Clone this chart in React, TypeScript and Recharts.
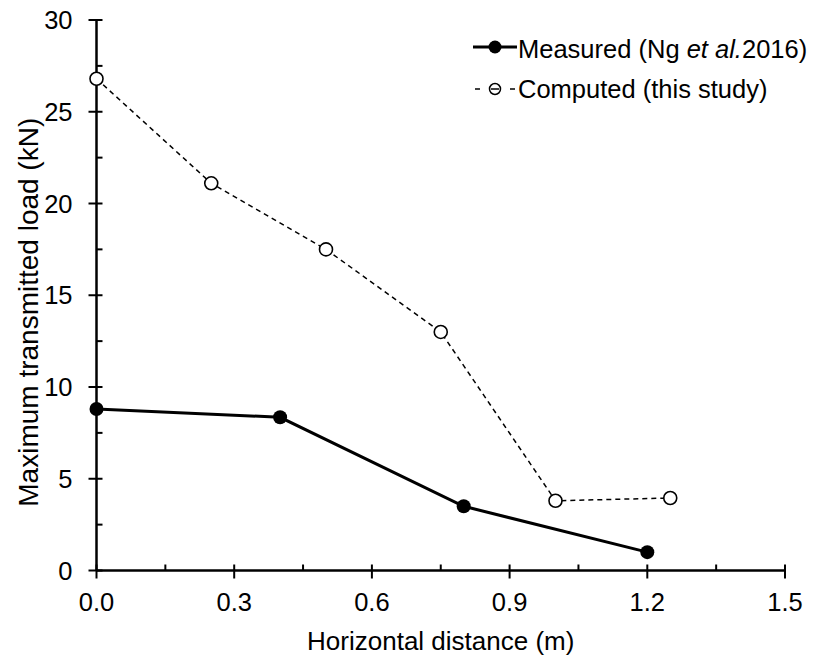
import React from "react";
import { LineChart, Line, XAxis, YAxis, Legend, Label } from "recharts";

const measuredX = [0, 0.4, 0.8, 1.2];
const measuredY = [8.8, 8.35, 3.5, 1.0];
const computedX = [0, 0.25, 0.5, 0.75, 1.0, 1.25];
const computedY = [26.8, 21.1, 17.5, 13.0, 3.8, 3.95];

const xTicks = [0, 0.15, 0.3, 0.45, 0.6, 0.75, 0.9, 1.05, 1.2, 1.35, 1.5];
const xMajor = [0, 0.3, 0.6, 0.9, 1.2, 1.5];
const yTicks = [0, 2.5, 5, 7.5, 10, 12.5, 15, 17.5, 20, 22.5, 25, 27.5, 30];
const yMajor = [0, 5, 10, 15, 20, 25, 30];

const measured = measuredX.map((x, i) => ({ x, y: measuredY[i] }));
const computed = computedX.map((x, i) => ({ x, y: computedY[i] }));

const FONT = "'Liberation Sans', Arial, sans-serif";

const isMajor = (list: number[], v: number) =>
  list.some((m) => Math.abs(m - v) < 1e-6);

const XTick = (props: any) => {
  const { x, y, payload } = props;
  const major = isMajor(xMajor, payload.value);
  return (
    <g>
      <line
        x1={x}
        x2={x}
        y1={y - 6}
        y2={major ? y + 8 : y}
        stroke="#000"
        strokeWidth={2}
      />
      {major && (
        <text x={x} y={y + 40} textAnchor="middle" fontSize={25.5} fill="#000" fontFamily={FONT}>
          {payload.value.toFixed(1)}
        </text>
      )}
    </g>
  );
};

const YTick = (props: any) => {
  const { x, y, payload } = props;
  const major = isMajor(yMajor, payload.value);
  return (
    <g>
      <line
        x1={major ? x - 8 : x}
        x2={x + 6}
        y1={y}
        y2={y}
        stroke="#000"
        strokeWidth={2}
      />
      {major && (
        <text x={x - 24} y={y + 9} textAnchor="end" fontSize={25.5} fill="#000" fontFamily={FONT}>
          {payload.value}
        </text>
      )}
    </g>
  );
};

const LegendBox = () => (
  <svg width={345} height={80} style={{ overflow: "visible", display: "block" }}>
    <g fontFamily={FONT} fontSize={25.5} fill="#000">
      <line x1={3} x2={47} y1={17} y2={17} stroke="#000" strokeWidth={3} />
      <circle cx={25} cy={17} r={6.5} fill="#000" />
      <text x={48} y={28}>
        Measured (Ng
        <tspan fontStyle="italic"> et al.</tspan>
        2016)
      </text>
      <line x1={5} x2={10} y1={59} y2={59} stroke="#000" strokeWidth={1.5} />
      <line x1={40} x2={45} y1={59} y2={59} stroke="#000" strokeWidth={1.5} />
      <circle cx={25} cy={59} r={5.5} fill="#fff" stroke="#000" strokeWidth={1.5} />
      <line x1={21} x2={29} y1={59} y2={59} stroke="#000" strokeWidth={1.5} />
      <text x={48} y={68}>Computed (this study)</text>
    </g>
  </svg>
);

export default function App() {
  return (
    <div style={{ position: "absolute", left: 0, top: 0, background: "#fff" }}>
      <LineChart
        width={815}
        height={655}
        margin={{ top: 20, right: 30, bottom: 0, left: 0 }}
      >
        <XAxis
          dataKey="x"
          type="number"
          domain={[0, 1.5]}
          ticks={xTicks}
          interval={0}
          allowDuplicatedCategory={false}
          height={84.5}
          tickSize={0}
          tickMargin={0}
          tick={<XTick />}
          axisLine={{ stroke: "#000", strokeWidth: 2.5 }}
          tickLine={false}
        >
          <Label
            content={(p: any) => (
              <text
                x={p.viewBox.x + p.viewBox.width / 2}
                y={p.viewBox.y + 79}
                textAnchor="middle"
                fontSize={26}
                fontFamily={FONT}
                fill="#000"
              >
                Horizontal distance (m)
              </text>
            )}
          />
        </XAxis>
        <YAxis
          dataKey="y"
          type="number"
          domain={[0, 30]}
          ticks={yTicks}
          interval={0}
          width={96.5}
          tickSize={0}
          tickMargin={0}
          tick={<YTick />}
          axisLine={{ stroke: "#000", strokeWidth: 2.5 }}
          tickLine={false}
        >
          <Label
            content={(p: any) => {
              const cx = p.viewBox.x + 38;
              const cy = p.viewBox.y + p.viewBox.height / 2 + 17;
              return (
                <text
                  x={cx}
                  y={cy}
                  transform={`rotate(-90 ${cx} ${cy})`}
                  textAnchor="middle"
                  fontSize={28}
                  fontFamily={FONT}
                  fill="#000"
                >
                  Maximum transmitted load (kN)
                </text>
              );
            }}
          />
        </YAxis>
        <Legend
          layout="vertical"
          align="center"
          verticalAlign="middle"
          content={<LegendBox />}
          wrapperStyle={{ position: "absolute", left: 470, top: 30, width: 345, height: 80 }}
        />
        <Line
          data={computed}
          dataKey="y"
          stroke="#000"
          strokeWidth={1.5}
          strokeDasharray="5 4"
          dot={{ r: 6.5, fill: "#fff", stroke: "#000", strokeWidth: 1.6, strokeDasharray: "" }}
          isAnimationActive={false}
        />
        <Line
          data={measured}
          dataKey="y"
          stroke="#000"
          strokeWidth={3}
          dot={{ r: 7, fill: "#000", stroke: "#000", strokeWidth: 0 }}
          isAnimationActive={false}
        />
      </LineChart>
    </div>
  );
}
